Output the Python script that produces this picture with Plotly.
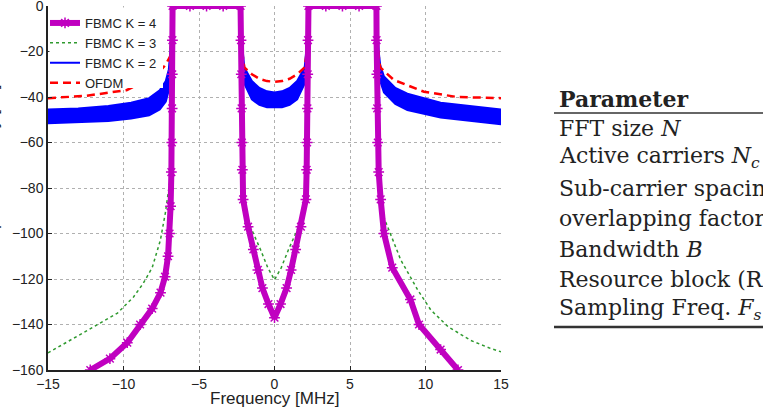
import plotly.graph_objects as go

# ---------------- data ----------------
# FBMC K = 4 (magenta, star markers)
f_k4 = [-12.2, -10.9, -9.75, -8.9, -8.1, -7.55, -7.25, -7.05, -6.95, -6.88, -6.83, -6.8, -6.78, -6.77, -6.76, -6.75,
        -5.6, -4.5, -3.4, -2.25, -2.22, -2.2, -2.18, -2.16, -2.13, -2.08, -1.75, -1.4, -1.1, -0.8, -0.4, 0.0,
        0.4, 0.8, 1.1, 1.4, 1.75, 2.08, 2.13, 2.16, 2.18, 2.2, 2.22, 2.25, 3.4, 4.5, 5.6, 6.75,
        6.76, 6.78, 6.8, 6.84, 6.9, 7.03, 7.25, 7.8, 9.0, 9.57, 11.0, 12.15]
psd_k4 = [-160, -155, -148, -140, -133, -126, -119, -110, -100, -88, -73, -60, -45, -30, -15, 0,
          0, 0, 0, 0, -15, -30, -45, -60, -72, -85, -97, -107, -116, -124, -131, -137,
          -131, -124, -116, -107, -97, -85, -72, -60, -45, -30, -15, 0, 0, 0, 0, 0,
          -15, -30, -45, -60, -73, -85, -100, -115, -129, -140, -151, -160]

# FBMC K = 3 (green dotted)
f_k3 = [-15, -13.7, -12, -10.4, -9.35, -8.7, -8.1, -7.56, -7.23, -6.95, -6.8, -6.75, -4.5, -2.25,
        -2.18, -2.05, -1.92, -1.6, -0.93, -0.45, 0.0, 0.45, 0.93, 1.6, 1.92, 2.05, 2.18, 2.25,
        4.5, 6.75, 6.8, 6.95, 7.25, 8.36, 9.5, 10.35, 11.5, 13.0, 14.3, 15]
psd_k3 = [-152.5, -147.5, -141, -135, -128, -122, -115, -103, -91, -78, -50, 0, 0, 0,
          -50, -85, -90, -97, -107, -115, -120.4, -115, -107, -97, -90, -85, -50, 0,
          0, 0, -50, -78, -93, -111.6, -125, -133.6, -141, -147, -150.5, -152]

# FBMC K = 2 (blue) - upper / lower envelope of the plotted band
f_k2 = [-15, -13, -11, -9.5, -8.3, -7.6, -7.2, -7.0, -6.9, -6.8, -6.76, -6.75, -4.5, -2.25,
        -2.22, -2.18, -2.1, -2.0, -1.5, -1.0, -0.5, 0.0, 0.5, 1.0, 1.5, 2.0, 2.1, 2.18, 2.22, 2.25,
        4.5, 6.75, 6.76, 6.8, 6.9, 7.0, 7.25, 8.0, 8.8, 11.0, 14.1, 15]
psd_k2_hi = [-45.5, -45, -44, -42.5, -40.5, -37, -33, -28, -20, -10, -3, 0, 0, 0,
             -3, -10, -20, -27, -33, -36, -37.5, -38, -37.5, -36, -33, -27, -20, -10, -3, 0,
             0, 0, -3, -10, -20, -26, -31, -36, -38.5, -42.5, -45, -45.5]
psd_k2_lo = [-51.5, -51, -50.5, -49.5, -48, -45.5, -42, -37, -28, -15, -5, 0, 0, 0,
             -5, -15, -28, -34, -41, -43.5, -44.5, -44.5, -44.5, -43.5, -41, -34, -28, -15, -5, 0,
             0, 0, -5, -15, -28, -33, -38, -43, -45.7, -49, -51.5, -52]

# OFDM (red dashed)
f_ofdm = [-15, -12.5, -9.8, -8.45, -7.8, -7.23, -6.9, -6.8, -6.75, -4.5, -2.25,
          -2.2, -2.1, -2.0, -1.5, -1.0, -0.5, 0.0, 0.5, 1.0, 1.5, 2.0, 2.1, 2.2, 2.25,
          4.5, 6.75, 6.8, 6.9, 7.0, 7.9, 9.9, 12.1, 15]
psd_ofdm = [-40.5, -39.5, -37, -32.5, -30.3, -26, -22, -12, 0, 0, 0,
            -12, -22, -27, -30, -32, -33, -33.3, -33, -32, -30, -27, -22, -12, 0,
            0, 0, -12, -22, -27, -32.5, -37.7, -40, -40.5]

x_ticks = [-15, -10, -5, 0, 5, 10, 15]
y_ticks = [-160, -140, -120, -100, -80, -60, -40, -20, 0]

table_header = "Parameter"
table_rows = [
    "FFT size <i>N</i>",
    "Active carriers <i>N</i><sub><i>c</i></sub>",
    "Sub-carrier spacing <i>Δf</i>",
    "overlapping factor <i>K</i>",
    "Bandwidth <i>B</i>",
    "Resource block (RB)",
    "Sampling Freq. <i>F</i><sub><i>s</i></sub>",
]

# ---------------- figure ----------------
W, H = 763, 407
L, R, T, B = 48, 262, 6, 37
PW, PH = W - L - R, H - T - B

def px_x(p):
    return (p - L) / PW

def px_y(p):
    return (H - B - p) / PH

MAG = "#c000c0"
fig = go.Figure()

# drawing order: green, blue band, red, magenta on top
fig.add_trace(go.Scatter(x=f_k3, y=psd_k3, mode="lines", name="FBMC K = 3", legendrank=2,
                         line=dict(color="#2f9a2f", width=1.5, dash="dot")))
fig.add_trace(go.Scatter(x=f_k2, y=psd_k2_hi, mode="lines", name="FBMC K = 2", legendrank=3,
                         line=dict(color="#0000ff", width=2)))
fig.add_trace(go.Scatter(x=f_k2, y=psd_k2_lo, mode="lines", showlegend=False,
                         fill="tonexty", fillcolor="#0000ff",
                         line=dict(color="#0000ff", width=2)))
fig.add_trace(go.Scatter(x=f_ofdm, y=psd_ofdm, mode="lines", name="OFDM", legendrank=4,
                         line=dict(color="#ff0000", width=2.5, dash="8px,5px")))
fig.add_trace(go.Scatter(x=f_k4, y=psd_k4, mode="lines+markers", name="FBMC K = 4", legendrank=1,
                         line=dict(color=MAG, width=6),
                         marker=dict(symbol="asterisk-open", size=9, color=MAG,
                                     line=dict(color=MAG, width=1.5))))

axis_common = dict(showline=True, linecolor="#222", linewidth=1.5, mirror=False,
                   ticks="inside", ticklen=4, tickcolor="#222", automargin=False,
                   showgrid=True, gridcolor="#b0b0b0", griddash="dot", gridwidth=1,
                   zeroline=False, ticklabeloverflow="allow",
                   tickfont=dict(family="Liberation Sans", size=14, color="#222"))

fig.update_xaxes(range=[-15, 15], tickvals=x_ticks, **axis_common)
fig.update_yaxes(range=[-160, 0], tickvals=y_ticks, ticklabelstandoff=0, **axis_common)

annotations = [
    dict(text="Frequency [MHz]", xref="paper", yref="paper", x=px_x(274), y=px_y(398),
         xanchor="center", yanchor="middle", showarrow=False,
         font=dict(family="Liberation Sans", size=17, color="#222")),
    dict(text="Power spectral density [dB]", xref="paper", yref="paper", x=px_x(3), y=px_y(188),
         xanchor="right", yanchor="middle", textangle=-90, showarrow=False,
         font=dict(family="Liberation Sans", size=17, color="#222")),
    dict(text="<b>" + table_header + "</b>", xref="paper", yref="paper", x=px_x(557), y=px_y(99),
         xanchor="left", yanchor="middle", showarrow=False,
         font=dict(family="DejaVu Serif", size=22, color="#222")),
]
row_y = [128, 158, 188, 219, 249, 279, 309]
for txt, yy in zip(table_rows, row_y):
    annotations.append(dict(text=txt, xref="paper", yref="paper", x=px_x(557), y=px_y(yy),
                            xanchor="left", yanchor="middle", showarrow=False,
                            font=dict(family="DejaVu Serif", size=22, color="#222")))

shapes = [
    # white legend backdrop (hides grid behind the legend, keeps the axis line)
    dict(type="rect", xref="paper", yref="paper", x0=px_x(49.5), x1=px_x(163),
         y0=px_y(88), y1=px_y(7.5), fillcolor="white", line=dict(width=0), layer="above"),
    dict(type="line", xref="paper", yref="paper", x0=px_x(554), x1=px_x(790),
         y0=px_y(113), y1=px_y(113), line=dict(color="#333", width=1.5)),
    dict(type="line", xref="paper", yref="paper", x0=px_x(554), x1=px_x(790),
         y0=px_y(327), y1=px_y(327), line=dict(color="#333", width=2.5)),
]

fig.update_layout(
    width=W, height=H,
    margin=dict(l=L, r=R, t=T, b=B, autoexpand=False),
    paper_bgcolor="white", plot_bgcolor="white",
    showlegend=True,
    legend=dict(x=px_x(45), y=px_y(8), xanchor="left", yanchor="top",
                bgcolor="rgba(0,0,0,0)", borderwidth=0, traceorder="normal",
                font=dict(family="Liberation Sans", size=13, color="#222"), itemwidth=30),
    annotations=annotations,
    shapes=shapes,
)

fig.write_html("out.html")
